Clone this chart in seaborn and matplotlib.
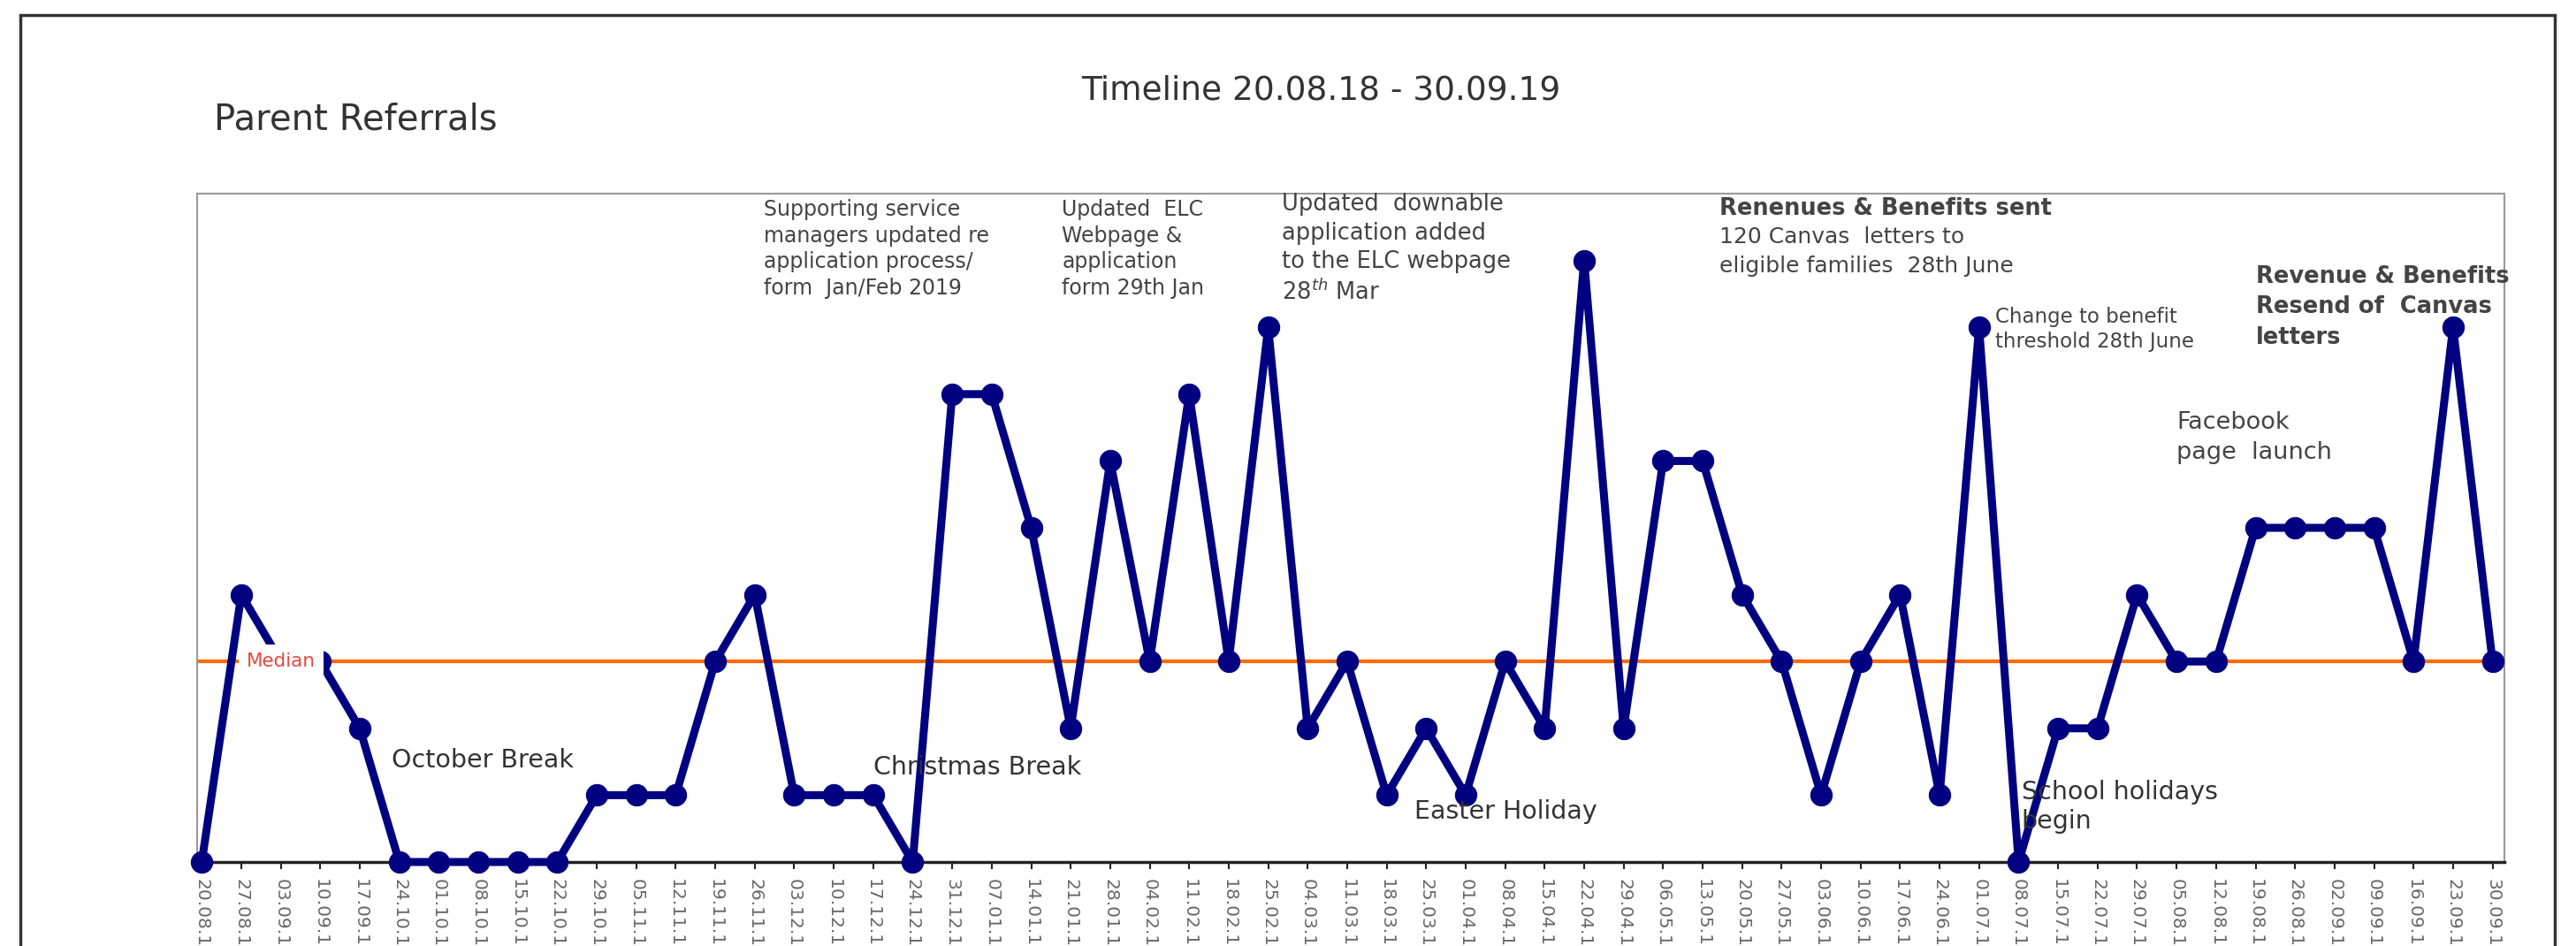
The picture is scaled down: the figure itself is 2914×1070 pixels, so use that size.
import numpy as np
import pandas as pd
import seaborn as sns
import matplotlib.pyplot as plt
from matplotlib.patches import Rectangle

sns.set_theme(style='white')
plt.rcParams['font.family'] = ['DejaVu Sans']

week_labels = [
    '20.08.18', '27.08.18', '03.09.18', '10.09.18', '17.09.18', '24.10.18',
    '01.10.18', '08.10.18', '15.10.18', '22.10.18', '29.10.18', '05.11.18',
    '12.11.18', '19.11.18', '26.11.18', '03.12.18', '10.12.18', '17.12.18',
    '24.12.18', '31.12.18', '07.01.19', '14.01.19', '21.01.19', '28.01.19',
    '04.02.19', '11.02.19', '18.02.19', '25.02.19', '04.03.19', '11.03.19',
    '18.03.19', '25.03.19', '01.04.19', '08.04.19', '15.04.19', '22.04.19',
    '29.04.19', '06.05.19', '13.05.19', '20.05.19', '27.05.19', '03.06.19',
    '10.06.19', '17.06.19', '24.06.19', '01.07.19', '08.07.19', '15.07.19',
    '22.07.19', '29.07.19', '05.08.19', '12.08.19', '19.08.19', '26.08.19',
    '02.09.19', '09.09.19', '16.09.19', '23.09.19', '30.09.19',
]
referrals = [
    0, 4, 3, 3, 2, 0, 0, 0, 0, 0, 1, 1, 1, 3, 4, 1, 1, 1, 0, 7,
    7, 5, 2, 6, 3, 7, 3, 8, 2, 3, 1, 2, 1, 3, 2, 9, 2, 6, 6, 4,
    3, 1, 3, 4, 1, 8, 0, 2, 2, 4, 3, 3, 5, 5, 5, 5, 3, 8, 3,
]

df = pd.DataFrame({'week': np.arange(len(referrals)), 'referrals': referrals})
median = float(np.median(df['referrals']))

fig = plt.figure(figsize=(29.14, 10.70), dpi=100)
ax = fig.add_axes([0.0765, 0.0888, 0.8957, 0.7065])

sns.lineplot(data=df, x='week', y='referrals', ax=ax, color='#000080',
             linewidth=6.5, marker='o', markersize=17.5, markeredgecolor='#000080',
             clip_on=False, zorder=3)
ax.axhline(median, color='#FF6A00', linewidth=3, zorder=2)
ax.text(2.0, median, 'Median', color='#E8473F', fontsize=15.5, ha='center', va='center',
        zorder=4, bbox=dict(facecolor='white', edgecolor='none', pad=6.5))

ax.set_xlim(-0.12, 58.3)
ax.set_ylim(0, 10)
ax.set_xticks(df['week'])
ax.set_xticklabels(week_labels, rotation=270, fontsize=14.5, color='#666666')
ax.set_yticks([])
ax.set_xlabel('')
ax.set_ylabel('')
ax.tick_params(axis='x', bottom=True, length=6, width=1.5, color='#222222', pad=8)
for side in ['top', 'left', 'right']:
    ax.spines[side].set_color('#999999')
    ax.spines[side].set_linewidth(1.5)
ax.spines['bottom'].set_color('#222222')
ax.spines['bottom'].set_linewidth(2.5)

# titles
fig.text(0.083, 0.873, 'Parent Referrals', fontsize=29, color='#333333', va='center')
fig.text(0.5127, 0.904, 'Timeline 20.08.18 - 30.09.19', fontsize=27, color='#333333',
         va='center', ha='center')

# notes about the changes
note = dict(color='#444444', va='top', ha='left')
ax.text(14.22, 9.92, 'Supporting service\nmanagers updated re\napplication process/\nform  Jan/Feb 2019',
        fontsize=17, linespacing=1.3, **note)
ax.text(21.78, 9.92, 'Updated  ELC\nWebpage &\napplication\nform 29th Jan',
        fontsize=17, linespacing=1.3, **note)
ax.text(27.35, 10.01, 'Updated  downable\napplication added\nto the ELC webpage\n28$^{th}$ Mar',
        fontsize=18.5, linespacing=1.32, **note)
ax.text(38.42, 9.95, 'Renenues & Benefits sent', fontsize=18.5, fontweight='bold', **note)
ax.text(38.42, 9.51, '120 Canvas  letters to\neligible families  28th June',
        fontsize=18, linespacing=1.45, **note)
ax.text(45.4, 8.31, 'Change to benefit\nthreshold 28th June', fontsize=16.5,
        linespacing=1.3, **note)
ax.text(52.0, 8.93, 'Revenue & Benefits\nResend of  Canvas\nletters', fontsize=18.5,
        fontweight='bold', linespacing=1.42, **note)
ax.text(50.0, 6.74, 'Facebook\npage  launch', fontsize=19.5, linespacing=1.4, **note)

holiday = dict(color='#333333', va='center', ha='left', fontsize=20.5)
ax.text(4.8, 1.52, 'October Break', **holiday)
ax.text(17.0, 1.42, 'Christmas Break', **holiday)
ax.text(30.7, 0.75, 'Easter Holiday', **holiday)
ax.text(46.07, 1.23, 'School holidays\nbegin', color='#333333', va='top', ha='left',
        fontsize=20.5, linespacing=1.22)

fig.add_artist(Rectangle((0.0079, -0.1), 0.9839, 1.084, transform=fig.transFigure,
                         fill=False, edgecolor='#333333', linewidth=2.5))

fig.savefig('out.png', dpi=100)
